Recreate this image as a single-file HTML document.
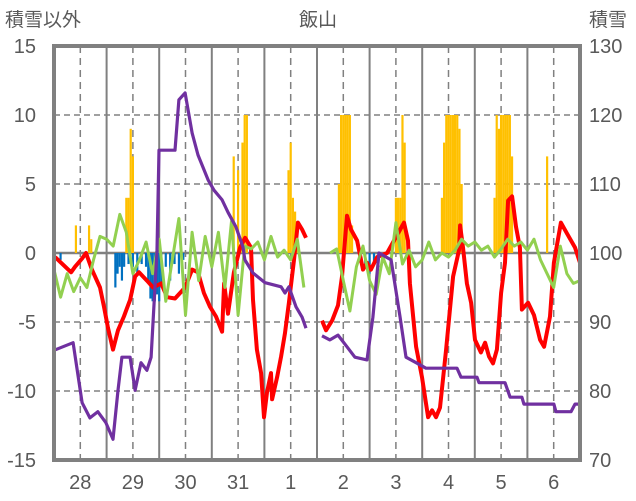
<!DOCTYPE html>
<html><head><meta charset="utf-8">
<style>
html,body{margin:0;padding:0;background:#fff;}
svg{display:block;font-family:"Liberation Sans","Noto Sans CJK JP",sans-serif;}
</style></head>
<body>
<svg id="chart" width="636" height="501" viewBox="0 0 636 501">
<g id="grid"></g>
<g id="bars"></g>
<g id="lines"></g>
<rect x="54" y="46" width="526" height="414" fill="none" stroke="#808080" stroke-width="4"/>
<g id="labels" fill="#595959" font-size="20"></g>
<text x="5" y="26" font-size="19" fill="#595959">積雪以外</text>
<text x="318" y="26" font-size="19" fill="#595959" text-anchor="middle">飯山</text>
<text x="589" y="26" font-size="19" fill="#595959">積雪</text>
</svg>
<script>
const dayLabels = ["28","29","30","31","1","2","3","4","5","6"];
const leftTicks = [15,10,5,0,-5,-10,-15];
const rightTicks = [130,120,110,100,90,80,70];

const redHours = [0.5,3.2,7.8,9.6,12.8,14.6,17.3,21,22.8,24.6,26.9,29.2,31.9,34.7,37,38.8,42.4,45.2,48.9,51.6,55.2,59.8,63,65.7,68.4,71.2,73.9,76.7,77.6,79.4,82.1,84.9,87.2,89.9,90.8,92.6,94.5,95.8,97.2,99,99.5,101.8,103.6,105.4,107.2,109.5,111.3,113.2,115,null,122.3,124.1,126.9,129.6,131.4,133.7,135.5,138.3,141,142.8,144.6,147.4,152,159.7,161.5,162.4,165.2,167.9,170.7,172.5,174.3,176.1,178.9,182.1,184.8,185.3,186.6,188.4,190.3,192.1,194.8,196.7,198.5,200.3,202.1,204,205.8,207.2,209,210.8,212.6,213.5,216.3,219,221.8,223.6,226.3,228.1,231.3,234.1,237.7,240];
const redValues = [-0.3,-0.7,-1.4,-1.0,-0.4,0,-1.2,-2.5,-3.9,-5.4,-7.0,-5.6,-4.6,-3.4,-1.7,-1.4,-2.0,-2.5,-2.2,-3.2,-3.3,-2.5,-1.2,-1.4,-2.9,-3.9,-4.6,-5.7,-2.2,-4.4,-1.4,0.4,1.1,0.4,-3.4,-7.0,-8.7,-11.9,-10.1,-8.7,-10.6,-9.0,-7.5,-5.8,-3.6,-0.5,2.2,1.7,1.1,null,-4.9,-5.6,-4.9,-3.8,-1.7,2.7,1.7,0.9,-1.2,-0.7,-1.2,-0.3,0,2.2,0.9,-2.2,-6.8,-9.0,-11.9,-11.4,-11.9,-11.2,-7.0,-1.7,0.2,2.0,0.4,-2.2,-3.6,-6.3,-7.2,-6.5,-7.5,-8.0,-7.0,-2.9,-0.7,3.8,4.1,1.9,0.4,-4.1,-3.6,-4.5,-6.3,-6.8,-4.6,-0.7,2.2,1.4,0.4,-0.7];

const snowHours = [0,8.7,12.8,16.4,20,23.7,26.9,29.2,31,34.7,37,39.7,42.4,44.3,47,47.9,55.2,57,59.8,63,65.7,70.3,73,76.7,79.4,83,86.2,87.1,90.8,96.3,103.6,105.4,107.2,110.4,113.2,115,null,122.3,125.9,129.6,133.7,137.3,142.8,145.5,148.3,153.8,157.9,160.6,165.2,169.7,183.9,185.7,193,193.9,205.8,208.1,213.5,214.4,228.1,229,235.9,237.7,240];
const snowValues = [85.9,87.0,78.3,76.1,77.0,75.4,73.0,80.1,84.9,84.9,80.1,84.1,83.0,84.9,100.4,114.9,114.9,122.2,123.2,117.4,114.2,110.6,109.1,107.7,105.9,103.8,100.9,99.0,97.1,95.7,95.1,94.2,95.1,92.2,90.7,89.1,null,88.0,87.4,88.1,86.4,84.9,84.5,90.7,100.0,99.0,90.7,84.9,84.1,83.3,83.3,82.0,82.0,81.2,81.2,79.1,79.1,78.1,78.1,77.0,77.0,78.1,78.1];

const greenHours = [0,3,6,9,12,15,18,21,24,27,30,33,36,39,42,45,48,51,54,57,60,63,66,69,72,75,78,81,84,87,90,93,96,99,102,105,108,111,114,117,120,123,126,129,132,135,138,141,144,147,150,153,156,159,162,165,168,171,174,177,180,183,186,189,192,195,198,201,204,207,210,213,216,219,222,225,228,231,234,237,240];
const greenValues = [-1.2,-3.2,-1.5,-2.8,-1.8,-2.5,-0.5,1.2,1.0,0.5,2.8,1.5,-1.5,-0.5,0.8,-1.5,1.0,-3.5,-0.5,2.5,-4.5,1.5,-2.0,1.2,-1.0,1.5,-2.5,2.3,-4.5,0.5,0.3,0.8,-0.5,1.2,-0.3,0.2,-0.5,1.0,-2.5,null,null,null,0.0,0.3,-2.0,-4.2,-1.0,0.5,-2.0,-3.0,-0.3,-1.5,2.2,-0.8,0.2,-1.0,-0.5,0.8,-0.5,0,-0.3,0.2,1.0,0.5,0.8,0.2,0.5,-0.3,0.3,1.0,0.5,0.8,0.2,1.0,-0.5,-1.5,-2.5,0.5,-1.5,-2.2,-2.0];

const orangeHours = [10,16,17,33,34,35,36,82,84,86,87,88,107,108,109,110,111,130,131,132,133,134,135,136,156,157,158,159,160,177,178,179,180,181,182,183,184,185,186,201,202,203,204,205,206,207,208,209,225];
const orangeValues = [2,2,1,4,4,9,7,7,6,8,10,10,6,8,4,3,1,5,10,10,10,10,10,2,4,4,4,10,8,4,8,10,10,10,10,10,10,9,5,4,10,9,10,10,10,10,10,7,7];

const blueHours = [3,28,29,30,31,32,34,36,38,40,42,43,44,45,46,47,48,49,51,53,55,57,59,140,142,144,146,148];
const blueValues = [-0.5,-2.5,-1.5,-1.0,-2.0,-1.0,-0.8,-1.0,-1.5,-0.8,-1.0,-2.0,-3.3,-3.5,-3.5,-3.0,-3.5,-2.5,-1.0,-2.0,-0.8,-1.5,-0.5,-0.5,-1.0,-1.5,-0.8,-1.0];

const X0=54, X1=580, Y0=46, Y1=460;
const xs = h => X0 + h*(X1-X0)/240;
const yL = v => Y1 - (v+15)*(Y1-Y0)/30;
const yR = v => Y1 - (v-70)*(Y1-Y0)/60;
const NS="http://www.w3.org/2000/svg";
function mk(tag, attrs, parent){const e=document.createElementNS(NS,tag);for(const k in attrs)e.setAttribute(k,attrs[k]);parent.appendChild(e);return e;}

const grid=document.getElementById('grid');
leftTicks.forEach(t=>{
  if(t===15||t===-15) return;
  const l=mk('line',{x1:X0,x2:X1,y1:yL(t),y2:yL(t),stroke:'#808080','stroke-width':t===0?2.5:1.5,'stroke-dasharray':t===0?'none':'6,4'},grid);
  
  
});
for(let d=0; d<10; d++){
  if(d>0){
    const l=mk('line',{x1:xs(d*24),x2:xs(d*24),y1:Y0,y2:Y1,stroke:'#808080','stroke-width':2},grid);
    
    
  }
  const m=mk('line',{x1:xs(d*24+12),x2:xs(d*24+12),y1:Y0,y2:Y1,stroke:'#808080','stroke-width':1.5,'stroke-dasharray':'7,5'},grid);
  
  
}

const bars=document.getElementById('bars');
const bw=(X1-X0)/240;
orangeHours.forEach((h,i)=>{
  const v=orangeValues[i];
  const r=mk('rect',{x:xs(h)-bw/2,y:yL(v),width:bw,height:yL(0)-yL(v),fill:'#FFC000'},bars);
  
  
});
blueHours.forEach((h,i)=>{
  const v=blueValues[i];
  const r=mk('rect',{x:xs(h)-bw/2,y:yL(0),width:bw,height:yL(v)-yL(0),fill:'#0070C0'},bars);
  
  
});

function pathFrom(hours, vals, yf){
  let d='', pen=false;
  hours.forEach((h,i)=>{
    const v=vals[i];
    if(h===null||v===null){pen=false;return;}
    d+=(pen?'L':'M')+xs(h).toFixed(1)+','+yf(v).toFixed(1);
    pen=true;
  });
  return d;
}
const lines=document.getElementById('lines');
const red=mk('path',{d:pathFrom(redHours,redValues,yL),fill:'none',stroke:'#FF0000','stroke-width':4,'stroke-linejoin':'round'},lines);


const green=mk('path',{d:pathFrom(greenHours,greenValues,yL),fill:'none',stroke:'#92D050','stroke-width':3,'stroke-linejoin':'round'},lines);


const purple=mk('path',{d:pathFrom(snowHours,snowValues,yR),fill:'none',stroke:'#7030A0','stroke-width':3.2,'stroke-linejoin':'round'},lines);



const labels=document.getElementById('labels');
leftTicks.forEach(t=>{
  const e=mk('text',{x:36,y:yL(t)+7,'text-anchor':'end'},labels);
  e.textContent=String(t);
  
  
});
rightTicks.forEach(t=>{
  const e=mk('text',{x:589,y:yR(t)+7},labels);
  e.textContent=String(t);
  
  
});
dayLabels.forEach((s,i)=>{
  const e=mk('text',{x:xs(i*24+12),y:489,'text-anchor':'middle'},labels);
  e.textContent=s;
  
  
});
</script>
</body></html>
